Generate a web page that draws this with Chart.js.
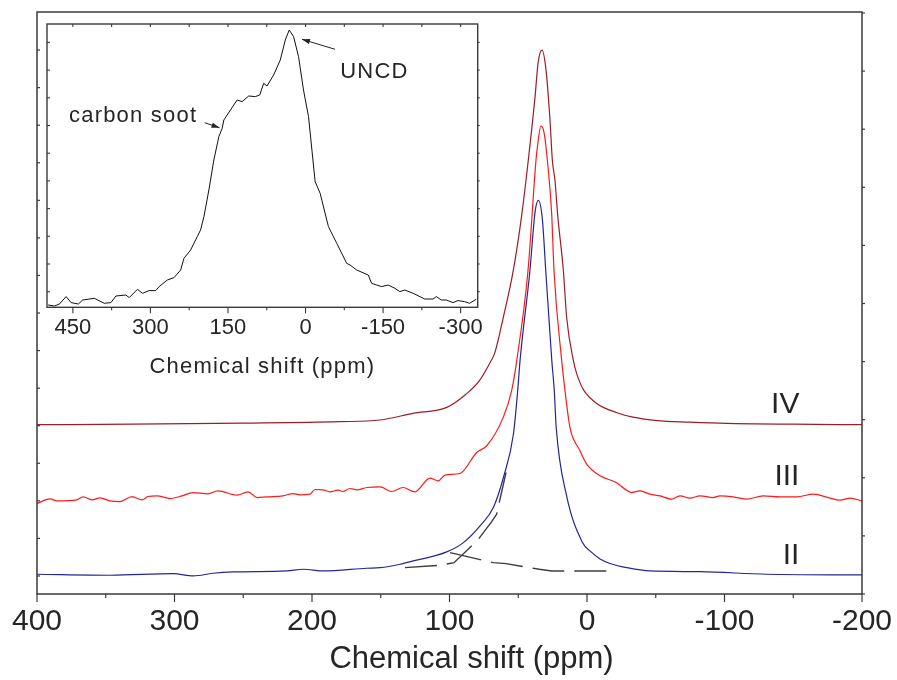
<!DOCTYPE html>
<html>
<head>
<meta charset="utf-8">
<script src="https://cdn.jsdelivr.net/npm/chart.js@4.4.0/dist/chart.umd.min.js"></script>
<style>
  html, body { margin: 0; padding: 0; background: #fff; overflow: hidden; }
  #wrap { position: relative; width: 897px; height: 680px; overflow: hidden; }
  canvas { position: absolute; left: 0; top: 0; }
</style>
</head>
<body>
<div id="wrap">
  <canvas id="main" width="905" height="680"></canvas>
  <canvas id="inset" width="500" height="390"></canvas>
</div>
<script>
// ---- main spectra (chemical shift in ppm, intensity in arbitrary units) ----
const ppmIV = [400, 330, 250, 180, 150.5, 126.5, 102, 87.8, 78.2, 69.7, 67, 60.9, 53.6, 47.5, 42.7, 37.8, 35.6, 32.7, 29.8, 26.9, 25.2, 23.3, 21.3, 17.2, 14.8, 9.9, 7.5, 5.1, 2.2, -7.3, -21.8, -33.5, -50.7, -75, -101.6, -150, -200];
const intIV = [169, 169.5, 170.5, 172, 173.7, 180.3, 186.3, 199.7, 213, 233, 241, 276, 323, 378, 433, 496, 530, 543, 523, 473, 433, 413, 378, 323, 276, 233, 220, 211, 203, 190, 181, 176.5, 173, 171.5, 170.3, 169.5, 169];

const ppmIII = [400, 390.5, 385.5, 370.9, 366.5, 360, 354.2, 346.9, 339.6, 330.9, 323.6, 319.3, 312.7, 303.3, 294.5, 286.5, 275.6, 268.4, 254.5, 246.5, 240, 232.7, 221.1, 213.8, 208.7, 201.5, 197.8, 192, 186.9, 181.1, 177.5, 172.4, 167.3, 160, 150.5, 142, 133.8, 125.1, 114.2, 108.1, 103.3, 92.4, 80.2, 72.9, 60.9, 54.8, 51.1, 42.9, 37.1, 36.1, 33.5, 31.3, 28.6, 25.7, 24, 18.4, 16, 12.4, 5.1, 0.2, -9.5, -21.6, -27.6, -32.5, -38.5, -45.8, -53.1, -61.6, -67.6, -74.9, -82.2, -91.9, -96.7, -106.4, -116.1, -128.2, -140.4, -152.5, -164.6, -176.7, -184, -191.3, -199.8];
const intIII = [90.3, 95, 93, 94, 97, 94, 96, 93, 92.3, 97.3, 94, 97.3, 98, 95.3, 98, 101.3, 100, 103, 98.7, 102, 96.3, 97, 98, 100.3, 99, 99.7, 104.3, 104, 102, 103.7, 102.3, 105.3, 104, 106.3, 107, 102.3, 106.3, 102, 115.7, 113, 118.7, 120.3, 141.3, 148, 176.3, 203, 233, 323, 433, 446, 467, 461, 430, 380, 323, 233, 203, 166.3, 143, 129.7, 118, 111, 104.7, 101.3, 103, 99.7, 98, 94.7, 98, 95.7, 98, 96.3, 98, 97, 94.7, 98, 97, 97, 99.7, 95.7, 93.7, 95.7, 93];

const ppmII = [400, 346.9, 300.8, 286.3, 272, 257.2, 218.4, 206.3, 191.8, 160.2, 150.5, 136, 126.3, 102, 89.9, 77.8, 68.1, 60.8, 53.5, 50.4, 48.7, 41.5, 37.8, 35.4, 32.5, 30, 25.6, 23.8, 22.4, 15.1, 3.5, -3, -9.5, -16.7, -30, -45.8, -82, -130.7, -200];
const intII = [19.7, 18.7, 20.3, 18, 20.7, 22, 23, 24.7, 23, 25.7, 26.3, 29.7, 33, 42, 51.3, 68, 86.3, 116.3, 159.7, 203, 233, 323, 381, 393, 374.7, 323, 233, 203, 166.3, 99.7, 52, 42, 35, 30.5, 26, 23, 22.3, 19.7, 19];

// fitted components of spectrum II (dashed)
const ppmFitA = [99.6, 68.1, 58.9, 34.7, 25.7, -20.4];
const intFitA = [41.3, 31.3, 30.3, 24.7, 23, 23];
const ppmFitB = [132.4, 106.9, 96.7, 82.7, 79, 69.3, 65.7, 58.9];
const intFitB = [26.3, 28.7, 31.3, 49.7, 54.7, 72.3, 79.7, 121.3];

const mainTicks = [400, 300, 200, 100, 0, -100, -200];
const curveLabels = ['IV', 'III', 'II'];

// ---- inset spectrum ----
const ppmInset = [497.8, 485.5, 475.9, 463.1, 453.4, 439.3, 431, 408.5, 389.2, 376.4, 366.7, 347.5, 341, 325, 315.4, 302.5, 289.7, 283.2, 267.2, 254.3, 241.5, 235.1, 222.2, 209.4, 203, 196.5, 186.9, 177.3, 167.6, 161.2, 158, 145.2, 132.3, 122.7, 109.8, 97, 88.6, 80.9, 74.5, 61.7, 48.8, 39.2, 31.5, 23.1, 13.5, 3.9, -5.8, -18.6, -28.3, -44.3, -60.4, -79.6, -86.1, -98.9, -121.4, -127.8, -137.4, -147.1, -159.9, -172.8, -182.4, -192, -208.1, -230.6, -246.6, -253, -262.7, -272.3, -285.2, -294.8, -307.6, -317.3, -330.1];
const intInset = [2.3, 1.3, 3.3, 10.7, 4.7, 3.3, 7.3, 9, 4, 4.7, 11.3, 12.3, 9.7, 18, 14, 16.7, 16.7, 20.7, 27.3, 29.7, 37.3, 49, 57.3, 70.7, 77.3, 90.7, 117.3, 147.3, 170.7, 179, 187.3, 197.3, 207.3, 205.7, 211.3, 210.7, 212.3, 224, 221.3, 232.3, 247.3, 267.3, 277.3, 270.7, 250.7, 217.3, 190.7, 125.7, 114, 80.7, 64, 44, 42.3, 37.3, 32.3, 24, 22.3, 20.7, 22.3, 19, 15.7, 17.3, 14, 8.3, 8.3, 10.7, 7.3, 7.3, 4.7, 6.7, 5.7, 4, 8];
const insetTicks = [450, 300, 150, 0, -150, -300];

const FONT = "'Liberation Sans', Arial, sans-serif";
const TEXT = '#262626';
const FRAME = '#3a3a3a';

function pts(xs, ys) {
  return xs.map((x, i) => ({ x: x, y: ys[i] }));
}

function line(ctx, x1, y1, x2, y2) {
  ctx.beginPath();
  ctx.moveTo(x1, y1);
  ctx.lineTo(x2, y2);
  ctx.stroke();
}

// frame, tick marks, axis title and curve labels of the main plot
const mainDecor = {
  id: 'mainDecor',
  afterDraw(chart) {
    const ctx = chart.ctx, a = chart.chartArea;
    const xs = chart.scales.x, ys = chart.scales.y;
    ctx.save();
    ctx.strokeStyle = FRAME;
    ctx.lineWidth = 1.5;
    ctx.strokeRect(a.left, a.top, a.right - a.left, a.bottom - a.top);
    ctx.lineWidth = 1.2;
    for (let v = -200; v <= 400; v += 50) {
      const px = xs.getPixelForValue(v);
      line(ctx, px, a.bottom, px, a.bottom + (v % 100 === 0 ? 8 : 4));
    }
    for (let v = 18; v <= 545; v += 37.5) {
      const py = ys.getPixelForValue(v);
      line(ctx, a.left, py, a.left + 3, py);
    }
    for (let v = 0; v <= 580; v += 58) {
      const py = ys.getPixelForValue(v);
      line(ctx, a.right, py, a.right + 3, py);
    }
    ctx.fillStyle = TEXT;
    ctx.font = '31px ' + FONT;
    ctx.textAlign = 'center';
    ctx.textBaseline = 'alphabetic';
    ctx.fillText('Chemical shift (ppm)', xs.getPixelForValue(84), 668);
    ctx.font = '30px ' + FONT;
    ctx.textAlign = 'right';
    const labelY = [181, 109, 30];
    curveLabels.forEach((t, i) => {
      ctx.fillText(t, xs.getPixelForValue(-154.5), ys.getPixelForValue(labelY[i]));
    });
    ctx.restore();
  }
};

function series(xs, ys, color, dash) {
  return {
    data: pts(xs, ys),
    borderColor: color,
    borderWidth: dash ? 1.4 : 1.2,
    borderDash: dash || [],
    pointRadius: 0,
    fill: false,
    tension: 0,
    cubicInterpolationMode: dash ? 'default' : 'monotone'
  };
}

new Chart(document.getElementById('main').getContext('2d'), {
  type: 'line',
  data: {
    datasets: [
      series(ppmIV, intIV, '#9e1c26'),
      series(ppmIII, intIII, '#ff1a1a'),
      series(ppmII, intII, '#262697'),
      series(ppmFitB, intFitB, '#3c3c3c', [32, 10]),
      series(ppmFitA, intFitA, '#3c3c3c', [32, 10])
    ]
  },
  options: {
    responsive: false,
    animation: false,
    layout: { padding: { left: 37, right: 43, top: 12, bottom: 30 } },
    plugins: { legend: { display: false }, tooltip: { enabled: false } },
    scales: {
      x: {
        type: 'linear',
        reverse: true,
        min: -200,
        max: 400,
        grid: { display: false, drawTicks: false },
        border: { display: false },
        afterBuildTicks: (s) => { s.ticks = mainTicks.map(v => ({ value: v })); },
        ticks: { padding: 10, color: TEXT, maxRotation: 0, font: { size: 30, family: FONT } }
      },
      y: { display: false, min: 0, max: 581 }
    }
  },
  plugins: [mainDecor]
});

// inset: frame, ticks, title and arrows
const insetDecor = {
  id: 'insetDecor',
  beforeDraw(chart) {
    const ctx = chart.ctx, a = chart.chartArea;
    ctx.save();
    ctx.fillStyle = '#fff';
    ctx.fillRect(a.left, a.top, a.right - a.left, a.bottom - a.top);
    ctx.restore();
  },
  afterDraw(chart) {
    const ctx = chart.ctx, a = chart.chartArea;
    const xs = chart.scales.x, ys = chart.scales.y;
    ctx.save();
    ctx.strokeStyle = FRAME;
    ctx.lineWidth = 1.4;
    ctx.strokeRect(a.left, a.top, a.right - a.left, a.bottom - a.top);
    ctx.lineWidth = 1.1;
    for (let v = -300; v <= 450; v += 75) {
      const px = xs.getPixelForValue(v);
      line(ctx, px, a.bottom, px, a.bottom + (v % 150 === 0 ? 6 : 3));
      line(ctx, px, a.top, px, a.top + 3);
    }
    for (let v = 15.6; v <= 270; v += 27.7) {
      const py = ys.getPixelForValue(v);
      line(ctx, a.left, py, a.left + 3, py);
      line(ctx, a.right, py, a.right + 2, py);
    }
    ctx.fillStyle = TEXT;
    ctx.font = '22px ' + FONT;
    ctx.letterSpacing = '1.2px';
    ctx.textAlign = 'center';
    ctx.fillText('Chemical shift (ppm)', (a.left + a.right) / 2, 372.7);
    ctx.textAlign = 'left';
    ctx.fillText('UNCD', xs.getPixelForValue(-67.2), ys.getPixelForValue(229.3));
    ctx.fillText('carbon soot', xs.getPixelForValue(457.4), ys.getPixelForValue(185.3));
    arrow(ctx, xs.getPixelForValue(-57.2), ys.getPixelForValue(258), xs.getPixelForValue(6.9), ys.getPixelForValue(268));
    arrow(ctx, xs.getPixelForValue(195.2), ys.getPixelForValue(184.6), xs.getPixelForValue(166.3), ys.getPixelForValue(179.6));
    ctx.restore();
  }
};

function arrow(ctx, x1, y1, x2, y2) {
  ctx.strokeStyle = '#222';
  ctx.fillStyle = '#222';
  ctx.lineWidth = 1;
  line(ctx, x1, y1, x2, y2);
  const ang = Math.atan2(y2 - y1, x2 - x1);
  const len = 8, w = 2.6;
  ctx.beginPath();
  ctx.moveTo(x2, y2);
  ctx.lineTo(x2 - len * Math.cos(ang) + w * Math.sin(ang), y2 - len * Math.sin(ang) - w * Math.cos(ang));
  ctx.lineTo(x2 - len * Math.cos(ang) - w * Math.sin(ang), y2 - len * Math.sin(ang) + w * Math.cos(ang));
  ctx.closePath();
  ctx.fill();
}

new Chart(document.getElementById('inset').getContext('2d'), {
  type: 'line',
  data: {
    datasets: [{
      data: pts(ppmInset, intInset),
      borderColor: '#111',
      borderWidth: 1,
      pointRadius: 0,
      fill: false,
      tension: 0
    }]
  },
  options: {
    responsive: false,
    animation: false,
    layout: { padding: { left: 47, right: 22.3, top: 24, bottom: 42.3 } },
    plugins: { legend: { display: false }, tooltip: { enabled: false } },
    scales: {
      x: {
        type: 'linear',
        reverse: true,
        min: -333,
        max: 500,
        grid: { display: false, drawTicks: false },
        border: { display: false },
        afterBuildTicks: (s) => { s.ticks = insetTicks.map(v => ({ value: v })); },
        ticks: { padding: 7, color: TEXT, maxRotation: 0, font: { size: 22, family: FONT } }
      },
      y: { display: false, min: 0, max: 283.3 }
    }
  },
  plugins: [insetDecor]
});
</script>
</body>
</html>
